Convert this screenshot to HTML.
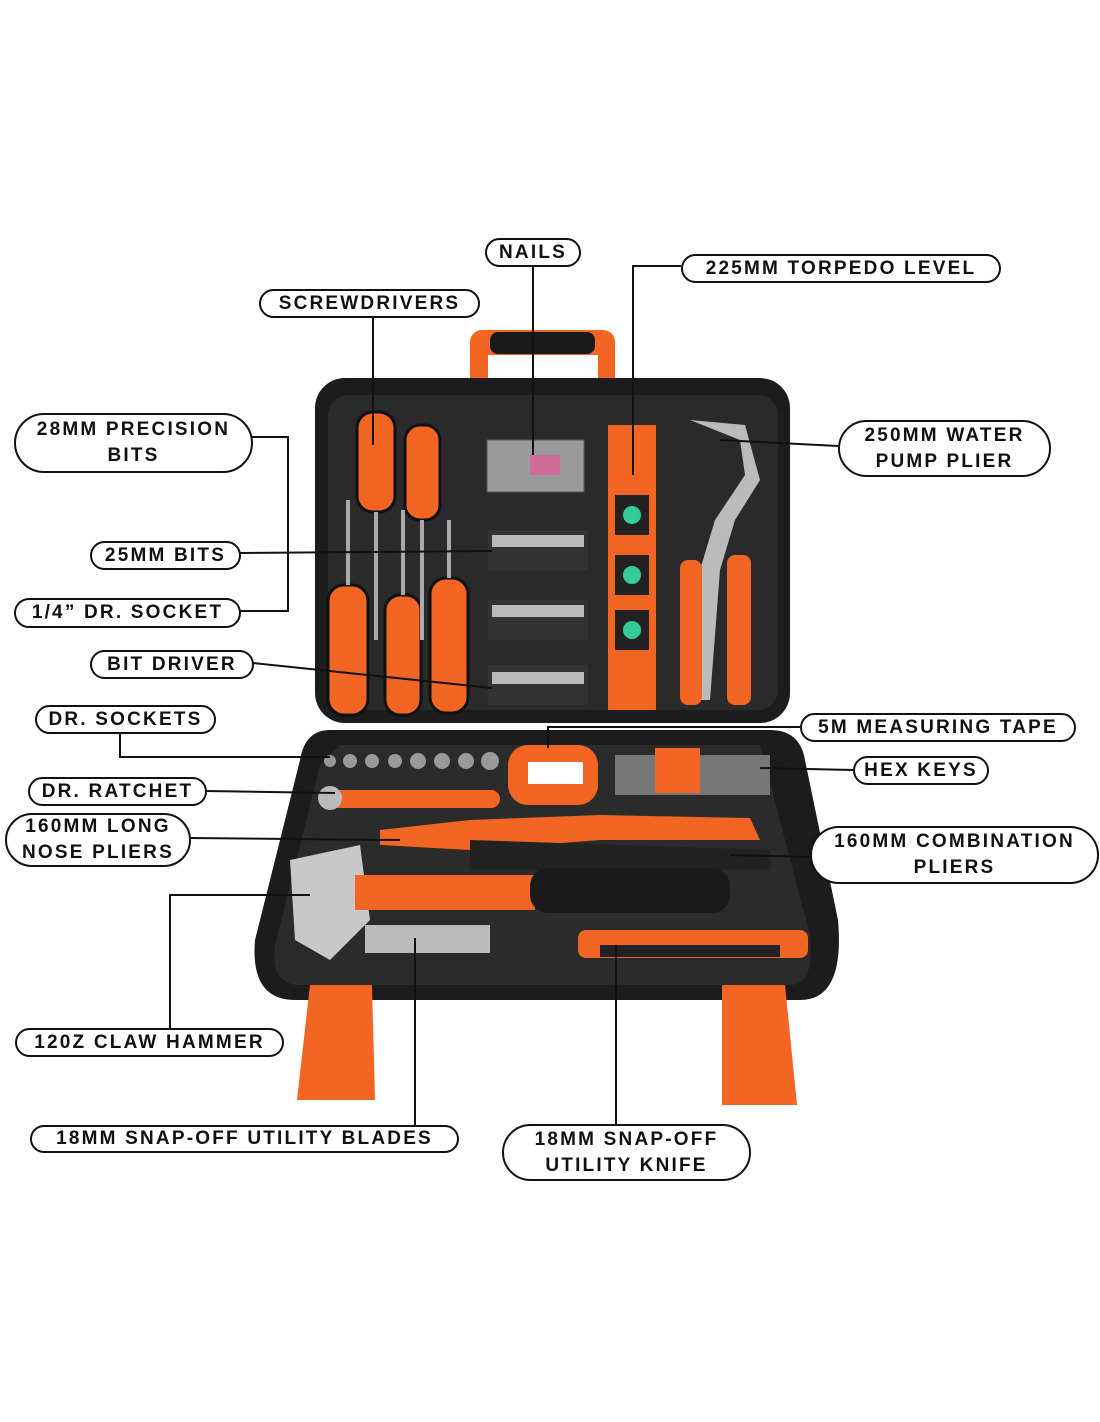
<!DOCTYPE html>
<html><head><meta charset="utf-8"><style>
html,body{margin:0;padding:0;background:#fff;}
body{width:1100px;height:1422px;position:relative;overflow:hidden;font-family:"Liberation Sans",sans-serif;}
.l{position:absolute;border:2px solid #111;border-radius:30px;background:#fff;font-weight:bold;font-size:19px;letter-spacing:2.2px;color:#111;text-align:center;line-height:26px;box-sizing:border-box;display:flex;align-items:center;justify-content:center;white-space:nowrap;}
svg{position:absolute;left:0;top:0;}
</style></head><body>
<svg width="1100" height="1422" viewBox="0 0 1100 1422">
<!-- handle -->
<rect x="470" y="330" width="145" height="80" rx="12" fill="#f26522"/>
<rect x="490" y="332" width="105" height="22" rx="8" fill="#1a1a1a"/>
<rect x="488" y="355" width="110" height="55" fill="#fff"/>
<!-- upper case -->
<rect x="315" y="378" width="475" height="345" rx="30" fill="#1c1c1c"/>
<rect x="328" y="395" width="450" height="315" rx="20" fill="#2a2a2a"/>
<!-- nails box -->
<rect x="487" y="440" width="97" height="52" fill="#9a9a9a" stroke="#555"/>
<rect x="530" y="455" width="30" height="20" fill="#d06a9a"/>
<!-- bits -->
<rect x="488" y="530" width="100" height="40" fill="#333"/>
<rect x="488" y="600" width="100" height="40" fill="#333"/>
<rect x="488" y="665" width="100" height="40" fill="#333"/>
<g fill="#bbb">
<rect x="492" y="535" width="92" height="12"/><rect x="492" y="605" width="92" height="12"/><rect x="492" y="672" width="92" height="12"/>
</g>
<!-- level -->
<rect x="608" y="425" width="48" height="285" fill="#f26522"/>
<rect x="615" y="495" width="34" height="40" fill="#222"/><rect x="615" y="555" width="34" height="40" fill="#222"/><rect x="615" y="610" width="34" height="40" fill="#222"/>
<circle cx="632" cy="515" r="9" fill="#3c9"/><circle cx="632" cy="575" r="9" fill="#3c9"/><circle cx="632" cy="630" r="9" fill="#3c9"/>
<!-- water pump plier -->
<path d="M690 420 L740 440 L745 475 L715 520 L700 570 L690 700 L710 700 L720 570 L735 520 L760 480 L745 425 Z" fill="#bbb"/>
<rect x="680" y="560" width="22" height="145" rx="8" fill="#f26522"/>
<rect x="727" y="555" width="24" height="150" rx="8" fill="#f26522"/>
<!-- screwdrivers -->
<g fill="#f26522" stroke="#111" stroke-width="3">
<rect x="357" y="412" width="38" height="100" rx="16"/>
<rect x="405" y="425" width="35" height="95" rx="15"/>
<rect x="328" y="585" width="40" height="130" rx="16"/>
<rect x="385" y="595" width="36" height="120" rx="15"/>
<rect x="430" y="578" width="38" height="135" rx="16"/>
</g>
<g stroke="#aaa" stroke-width="4">
<line x1="376" y1="512" x2="376" y2="640"/><line x1="422" y1="520" x2="422" y2="640"/>
<line x1="348" y1="585" x2="348" y2="500"/><line x1="403" y1="595" x2="403" y2="510"/><line x1="449" y1="578" x2="449" y2="520"/>
</g>
<!-- lower case -->
<path d="M330 730 H770 Q800 730 805 760 L838 920 Q845 1000 800 1000 H295 Q250 1000 255 940 L300 760 Q305 730 330 730 Z" fill="#1c1c1c"/>
<path d="M340 745 H760 L810 935 Q815 985 790 985 H300 Q270 985 275 945 L320 765 Z" fill="#2b2b2b"/>
<!-- sockets -->
<g fill="#999"><circle cx="330" cy="761" r="6"/><circle cx="350" cy="761" r="7"/><circle cx="372" cy="761" r="7"/><circle cx="395" cy="761" r="7"/><circle cx="418" cy="761" r="8"/><circle cx="442" cy="761" r="8"/><circle cx="466" cy="761" r="8"/><circle cx="490" cy="761" r="9"/></g>
<!-- tape -->
<rect x="508" y="745" width="90" height="60" rx="20" fill="#f26522"/>
<rect x="528" y="762" width="55" height="22" fill="#fff"/>
<!-- hex keys -->
<rect x="615" y="755" width="155" height="40" fill="#777"/>
<rect x="655" y="748" width="45" height="45" fill="#f26522"/>
<!-- ratchet -->
<rect x="320" y="790" width="180" height="18" rx="9" fill="#f26522"/>
<circle cx="330" cy="798" r="12" fill="#bbb"/>
<!-- pliers -->
<path d="M380 830 L470 820 L600 815 L750 818 L760 840 L600 840 L470 850 L380 845Z" fill="#f26522"/>
<path d="M470 840 L770 850 L770 870 L470 870 Z" fill="#222"/>
<!-- hammer -->
<path d="M290 860 L360 845 L370 920 L330 960 L295 940 Z" fill="#c8c8c8"/>
<rect x="355" y="875" width="180" height="35" fill="#f26522"/>
<rect x="530" y="868" width="200" height="45" rx="18" fill="#1a1a1a"/>
<!-- blades -->
<rect x="365" y="925" width="125" height="28" fill="#bbb"/>
<!-- knife -->
<rect x="578" y="930" width="230" height="28" rx="8" fill="#f26522"/>
<rect x="600" y="945" width="180" height="12" fill="#222"/>
<!-- feet -->
<path d="M310 985 H372 L375 1100 H297 Z" fill="#f26522"/>
<path d="M722 985 H785 L797 1105 H722 Z" fill="#f26522"/>
<!-- connectors -->
<g stroke="#111" stroke-width="2" fill="none">
<line x1="533" y1="267" x2="533" y2="455"/>
<polyline points="681,266 633,266 633,475"/>
<polyline points="373,317 373,445"/>
<polyline points="252,437 288,437 288,611 240,611"/>
<line x1="240" y1="553" x2="492" y2="551"/>
<line x1="253" y1="663" x2="492" y2="688"/>
<line x1="838" y1="446" x2="720" y2="440"/>
<polyline points="120,733 120,757 330,757"/>
<polyline points="800,727 548,727 548,748"/>
<line x1="853" y1="770" x2="760" y2="768"/>
<line x1="206" y1="791" x2="335" y2="793"/>
<line x1="190" y1="838" x2="400" y2="840"/>
<line x1="810" y1="857" x2="730" y2="855"/>
<polyline points="170,1028 170,895 310,895"/>
<line x1="415" y1="1125" x2="415" y2="938"/>
<line x1="616" y1="1124" x2="616" y2="945"/>
</g>
</svg>
<div class="l" style="left:485px;top:238px;width:96px;height:29px;">NAILS</div>
<div class="l" style="left:681px;top:254px;width:320px;height:29px;">225MM TORPEDO LEVEL</div>
<div class="l" style="left:259px;top:289px;width:221px;height:29px;">SCREWDRIVERS</div>
<div class="l" style="left:14px;top:413px;width:239px;height:60px;">28MM PRECISION<br>BITS</div>
<div class="l" style="left:838px;top:420px;width:213px;height:57px;">250MM WATER<br>PUMP PLIER</div>
<div class="l" style="left:90px;top:541px;width:151px;height:29px;">25MM BITS</div>
<div class="l" style="left:14px;top:598px;width:227px;height:30px;">1/4” DR. SOCKET</div>
<div class="l" style="left:90px;top:650px;width:164px;height:29px;">BIT DRIVER</div>
<div class="l" style="left:35px;top:705px;width:181px;height:29px;">DR. SOCKETS</div>
<div class="l" style="left:800px;top:713px;width:276px;height:29px;">5M MEASURING TAPE</div>
<div class="l" style="left:853px;top:756px;width:136px;height:29px;">HEX KEYS</div>
<div class="l" style="left:28px;top:777px;width:179px;height:29px;">DR. RATCHET</div>
<div class="l" style="left:5px;top:813px;width:186px;height:54px;">160MM LONG<br>NOSE PLIERS</div>
<div class="l" style="left:810px;top:826px;width:289px;height:58px;">160MM COMBINATION<br>PLIERS</div>
<div class="l" style="left:15px;top:1028px;width:269px;height:29px;">120Z CLAW HAMMER</div>
<div class="l" style="left:30px;top:1125px;width:429px;height:28px;">18MM SNAP-OFF UTILITY BLADES</div>
<div class="l" style="left:502px;top:1124px;width:249px;height:57px;">18MM SNAP-OFF<br>UTILITY KNIFE</div>
</body></html>
